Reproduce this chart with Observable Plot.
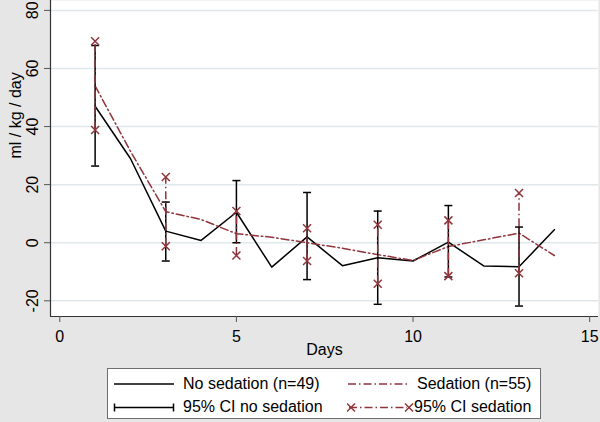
<!DOCTYPE html>
<html><head><meta charset="utf-8">
<script src="https://cdn.jsdelivr.net/npm/d3@7"></script>
<script src="https://cdn.jsdelivr.net/npm/@observablehq/plot@0.6"></script>
<style>
body{margin:0;background:#e6e6e6;font-family:"Liberation Sans",Arial,sans-serif;}
#wrap{width:600px;height:422px;position:relative;overflow:hidden;}
#legend{position:absolute;left:107px;top:368px;width:434px;height:51px;background:#fff;border:1px solid #6e6e6e;box-sizing:border-box;font-size:16px;color:#000;}
.item{position:absolute;white-space:nowrap;line-height:18px;}
.item svg{position:absolute;top:0;}
.item span{position:absolute;top:0;}
</style></head><body>
<div id="wrap"><div id="chart"></div>
<div id="legend">
  <div class="item" style="left:0;top:6px;width:230px;height:18px;">
    <svg width="70" height="18" style="left:5px"><line x1="1" y1="9" x2="61" y2="9" stroke="#000" stroke-width="1.5"/></svg>
    <span style="left:75px">No sedation (n=49)</span></div>
  <div class="item" style="left:233px;top:6px;width:200px;height:18px;">
    <svg width="70" height="18" style="left:6px"><line x1="1" y1="9" x2="61" y2="9" stroke="#90353b" stroke-width="1.5" stroke-dasharray="8 3 1.5 3"/></svg>
    <span style="left:76px">Sedation (n=55)</span></div>
  <div class="item" style="left:0;top:29px;width:230px;height:18px;">
    <svg width="70" height="18" style="left:5px"><line x1="1" y1="9.5" x2="61" y2="9.5" stroke="#000" stroke-width="1.5"/><line x1="1.5" y1="5.5" x2="1.5" y2="13.5" stroke="#000" stroke-width="1.5"/><line x1="60.5" y1="5.5" x2="60.5" y2="13.5" stroke="#000" stroke-width="1.5"/></svg>
    <span style="left:75px">95% CI no sedation</span></div>
  <div class="item" style="left:233px;top:29px;width:200px;height:18px;">
    <svg width="70" height="18" style="left:6px"><line x1="2" y1="9.5" x2="60" y2="9.5" stroke="#90353b" stroke-width="1.5" stroke-dasharray="8 3 1.5 3"/><path d="M-2,5.5L6,13.5M-2,13.5L6,5.5M56,5.5L64,13.5M56,13.5L64,5.5" stroke="#90353b" stroke-width="1.5" transform="translate(2,0)"/></svg>
    <span style="left:73px">95% CI sedation</span></div>
</div></div>
<script>
// ---- data ----
const days = [1,2,3,4,5,6,7,8,9,10,11,12,13,14];
const noSedation = [47, 29, 4, 0.8, 10.5, -8.4, 2, -7.9, -5.2, -6.3, 0.2, -8, -8.3, 4.5];
const sedation   = [54, 31.5, 10.7, 8, 3.1, 1.9, 0, -1.9, -4.1, -6.1, -1.3, 1, 3.3, -4.4];
const ciDays   = [1, 3, 5, 7, 9, 11, 13];
const ciNoLo   = [26.4, -6.3, 0, -12.7, -21.2, -11.8, -21.8];
const ciNoHi   = [67.9, 14, 21.4, 17.3, 10.9, 12.8, 5.4];
const ciSedLo  = [38.8, -1.2, -4.4, -6.3, -14.1, -11.5, -10.5];
const ciSedHi  = [69.4, 22.6, 10.9, 5, 6.2, 7.7, 17.1];
const xTicks = [0, 5, 10, 15];
const yTicks = [-20, 0, 20, 40, 60, 80];
const xDomain = [-0.263, 15.25];
const yDomain = [-25.4, 83.4];

const RED = "#90353b";
const DASH = "8 3 1.5 3";
const lineNo = days.map((d,i)=>({day:d, v:noSedation[i]}));
const lineSed = days.map((d,i)=>({day:d, v:sedation[i]}));
const ciNo = ciDays.map((d,i)=>({day:d, lo:ciNoLo[i], hi:ciNoHi[i]}));
const ciSed = ciDays.map((d,i)=>({day:d, lo:ciSedLo[i], hi:ciSedHi[i]}));
const capEnds = ciNo.flatMap(d=>[{day:d.day, v:d.lo},{day:d.day, v:d.hi}]);
const sedEnds = ciSed.flatMap(d=>[{day:d.day, v:d.lo},{day:d.day, v:d.hi}]);

const capSym = {draw(ctx, size){const r=Math.sqrt(size/Math.PI); ctx.moveTo(-r,0); ctx.lineTo(r,0);}};
const crossSym = {draw(ctx, size){const r=Math.sqrt(size/Math.PI); ctx.moveTo(-r,-r); ctx.lineTo(r,r); ctx.moveTo(-r,r); ctx.lineTo(r,-r);}};

const chart = Plot.plot({
  width: 600, height: 362,
  marginLeft: 50, marginRight: 2, marginTop: 0, marginBottom: 46,
  style: {background: "transparent", fontFamily: "Liberation Sans, Arial, sans-serif", fontSize: "16px", color: "#000"},
  x: {domain: xDomain},
  y: {domain: yDomain},
  marks: [
    Plot.frame({fill: "white", stroke: "none"}),
    Plot.gridY(yTicks, {stroke: "#dfe8eb", strokeOpacity: 1, strokeWidth: 1.5}),
    Plot.ruleY([yDomain[0]], {stroke: "#333", strokeWidth: 1.2}),
    Plot.ruleX([xDomain[0]], {stroke: "#333", strokeWidth: 1.2}),
    Plot.axisX({ticks: xTicks, tickSize: 6, tickPadding: 8, label: null, stroke: "#555", tickFormat: d=>String(d)}),
    Plot.axisY({ticks: yTicks, tickSize: 6, label: null, tickFormat: () => "", stroke: "#555"}),
    Plot.text(yTicks, {y: d=>d, frameAnchor: "left", dx: -18, rotate: -90, text: d=>String(d), textAnchor: "middle", lineAnchor: "middle", fill: "#000"}),
    Plot.text(["ml / kg / day"], {frameAnchor: "left", dx: -35, rotate: -90, text: d=>d, fill: "#000"}),
    Plot.text(["Days"], {frameAnchor: "bottom", dy: 38, text: d=>d, fill: "#000"}),
    Plot.line(lineNo, {x: "day", y: "v", stroke: "#000", strokeWidth: 1.5}),
    Plot.line(lineSed, {x: "day", y: "v", stroke: RED, strokeWidth: 1.5, strokeDasharray: DASH}),
    Plot.ruleX(ciNo, {x: "day", y1: "lo", y2: "hi", stroke: "#000", strokeWidth: 1.5}),
    Plot.dot(capEnds, {x: "day", y: "v", symbol: capSym, r: 4, stroke: "#000", strokeWidth: 1.5, fill: "none"}),
    Plot.ruleX(ciSed, {x: "day", y1: "lo", y2: "hi", stroke: RED, strokeWidth: 1.5, strokeDasharray: DASH}),
    Plot.dot(sedEnds, {x: "day", y: "v", symbol: crossSym, r: 4, stroke: RED, strokeWidth: 1.5, fill: "none"})
  ]
});
document.getElementById("chart").appendChild(chart);
</script>
</body></html>
